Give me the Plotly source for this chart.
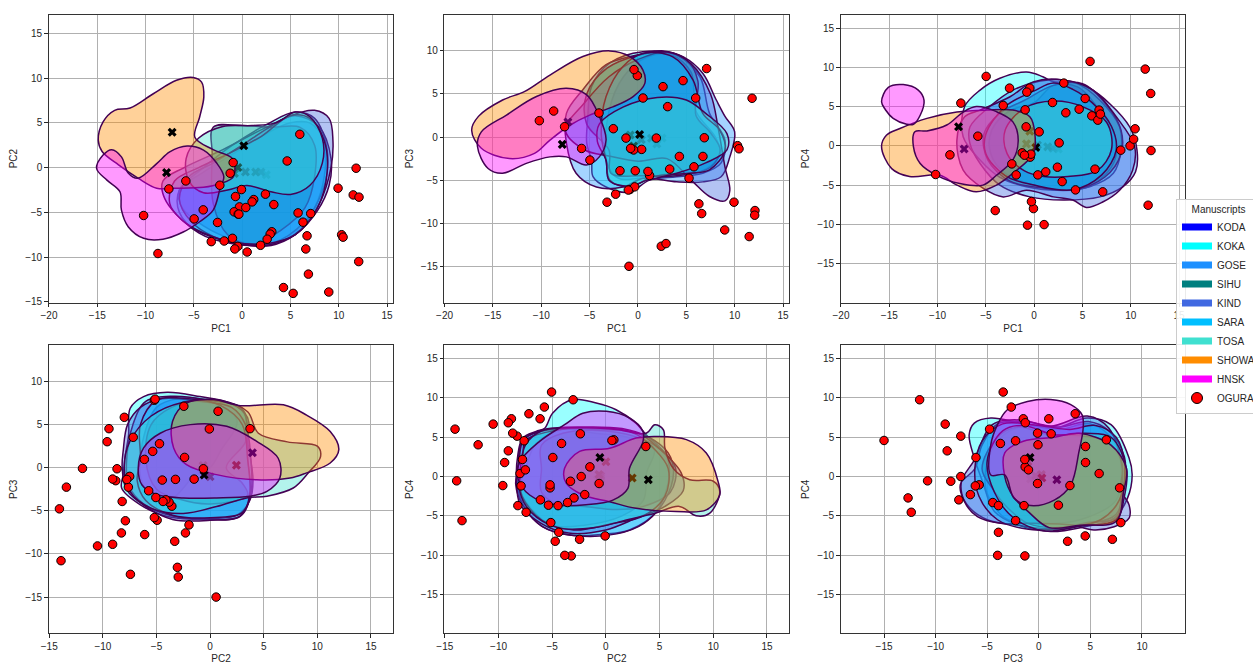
import plotly.graph_objects as go

MANUSCRIPTS = ["KODA", "KOKA", "GOSE", "SIHU", "KIND", "SARA", "TOSA", "SHOWA", "HNSK"]
COLORS = ["#0000ff", "#00ffff", "#1e90ff", "#008080", "#4169e1", "#00bfff", "#40e0d0", "#ff8c00", "#ff00ff"]

# OGURA points, one entry per poem
PC1 = [5.97, 4.66, 11.8, 9.93, 11.5, 12.1, -0.93, -1.24, -5.83, -2.31, -7.59, -0.07, -0.69, 2.41, 1.2, 1.03, 3.28,
       -0.28, 0.38, -4.03, -0.83, -0.41, -0.34, 5.79, 7.1, -10.2, -4.97, -2.55, 6.3, 3.07, 2.9, 2.59, 6.72, 10.3,
       10.45, -1.0, -3.2, -1.86, -0.45, -0.76, 1.9, 0.52, 6.59, -8.72, 12.07, 6.86, 4.28, 5.28, 8.97]
PC2 = [3.72, 0.74, -0.07, -2.3, -3.05, -3.3, 0.56, -0.63, -1.49, -1.97, -2.38, -2.45, -3.23, -2.97, -3.57, -3.83, -4.13,
       -4.39, -4.46, -4.72, -4.94, -5.2, -5.2, -5.06, -5.13, -5.35, -5.73, -6.13, -6.1, -7.17, -7.43, -8.0, -7.62, -7.5,
       -7.77, -7.9, -8.27, -8.2, -8.8, -9.09, -8.68, -9.43, -9.09, -9.6, -10.5, -11.9, -13.4, -14.05, -13.9]
PC3 = [4.53, 6.55, 4.5, -7.56, -11.55, -8.53, -15.0, -0.12, -1.32, -6.63, 1.2, 7.13, -1.35, -12.67, -4.46, -3.99, -3.72,
       -3.91, -1.43, 2.79, -6.09, 7.83, -5.78, -3.45, 7.95, 1.9, -2.67, 0.97, -7.75, 3.53, -12.36, 5.85, -2.25, -1.0,
       -1.36, -6.15, -7.56, -3.91, -1.5, -1.31, -0.12, 4.53, -8.88, 3.02, -9.07, -0.08, -2.25, -4.77, -10.78]
PC4 = [3.82, 4.67, -7.56, 0.0, 9.77, -0.6, 4.59, -0.89, 1.23, -2.3, 5.44, -7.99, -10.1, -2.72, -3.31, -10.03, 4.21,
       -7.1, -3.7, -8.24, 2.42, -1.44, -1.06, 10.75, -5.86, -3.65, 8.84, 7.35, -2.97, 7.99, -4.55, 0.38, 4.55, 0.85,
       2.17, -1.19, 5.14, -3.7, 7.35, 6.84, 5.52, 1.78, 3.27, -1.15, 6.67, 4.04, -5.61, 6.03, -0.55]

# Manuscript centroids, same order as MANUSCRIPTS
MEAN_PC1 = [2.5, 1.95, 1.4, 0.34, -0.8, -0.45, 0.17, -7.25, -7.83]
MEAN_PC2 = [-0.8, -0.5, -0.5, -0.48, -0.65, 0.0, 2.45, 3.95, -0.56]
MEAN_PC3 = [-0.1, -0.8, -0.15, -0.3, 0.25, -1.05, 0.3, 1.75, -0.85]
MEAN_PC4 = [-0.4, -0.3, -0.13, 0.1, 0.25, 1.87, -0.2, -0.4, 2.42]

# Density outlines; None separates detached parts
KODA_12 = [(-6.5,-2.5),(-4,-0.5),(-1,1.5),(2,3.5),(5,5),(7,5),(8.5,3),(8.5,-1),(7.5,-4.5),(5.5,-7.5),(2,-8.6),(-1,-8),(-4,-6.5),(-6.2,-4.5)]
KOKA_12 = [(-6.5,-5),(-6.5,-2.5),(-4,0),(-1,2.5),(2.5,4.8),(5.5,6.2),(7.5,5.5),(8.8,2),(8.5,-2),(6.5,-6),(3,-8.5),(-1,-8.5),(-4.5,-7.3)]
GOSE_12 = [(-8,-3.5),(-8.2,-1.5),(-6,0),(-2,2),(2.5,4.5),(5.5,5.8),(8,4.5),(9.2,1),(9,-2),(7.8,-4.8),(5.5,-7.5),(3,-8.7),(0,-8.6),(-3,-7.8),(-5.5,-6.5)]
SIHU_12 = [(-3,-4),(-3.1,1.5),(-3,4.5),(0,4.7),(3,4.5),(6,4.5),(7.5,2.5),(7.5,-1),(6.5,-4.5),(4,-7),(1,-8.6),(-1.5,-7.5)]
KIND_12 = [(-6.5,-3.5),(-5.5,-1),(-3,0.5),(0,2.5),(2.5,4.3),(5,5.8),(7.5,6.4),(9,5.5),(9.4,3),(9.2,0),(8,-4),(6,-7),(3,-8.6),(0,-8.6),(-3,-7.7),(-5.3,-6)]
SARA_12 = [(-7.5,-4),(-7,-1.5),(-4.5,0),(-1.5,1.5),(2,3.5),(5,5.8),(7,5.5),(8.5,3),(8.8,-0.5),(7.8,-4.5),(5.5,-7.5),(2.5,-8.5),(-1,-8.3),(-4,-7.3),(-6.3,-5.8)]
TOSA_12 = [(-5.8,1),(-4.5,3.3),(-2,4.6),(1,4.7),(3.5,5),(5.5,6.2),(7,5.7),(8.3,3.3),(8.3,0.5),(7,-2),(5,-3),(3,-2.7),(0.5,-2),(-1.5,-2.5),(-4,-2.8),(-5.5,-1.5)]
SHOWA_12 = [(-14.9,3.05),(-14.4,5.1),(-13.2,6.4),(-11.6,6.65),(-9.2,8.25),(-6.8,9.75),(-5.07,10.07),(-4.2,9.55),(-3.97,7.9),(-4.4,5.65),(-4.9,3.4),(-3,2),(-1,1),(-0.9,-1),(-2.3,-1.8),(-4,-2.2),(-7,-2.3),(-8.85,-2.3),(-10.75,-1.2),(-12.8,0.3),(-14.5,1.8)]
HNSK_12 = [(-15.07,-0.1),(-14.4,1.4),(-13.5,2),(-12.5,1.2),(-11.8,-0.6),(-10.8,-1.2),(-8.85,0.45),(-7.5,1.75),(-5.7,2.4),(-4,1.95),(-2.6,0.45),(-1.9,-1),(-2.3,-2.4),(-3,-4.75),(-4.4,-6.05),(-6.1,-7.2),(-8.2,-8),(-10.2,-7.9),(-11.8,-6.6),(-12.5,-4.75),(-12.65,-2.7),(-14,-1.4)]

KODA_13 = [(-3.2,-3),(-3,3),(-1.5,7),(1,9.3),(3.5,9.5),(5.5,7.5),(6,3),(8,0),(8.5,-2),(6.5,-4),(3,-4.3),(0,-4.8),(-2,-4.8)]
KOKA_13 = [(-4.8,-2.7),(-4.65,-4.6),(-3.3,-5.8),(-0.9,-6.4),(1.2,-5),(4,-4.6),(6.7,-4.2),(8.6,-3),(9,-0.35),(7.4,2.75),(6.4,7),(4,9.5),(0.5,9.9),(-2.9,8.6),(-4.8,5.85),(-5.2,2),(-5.3,-0.7)]
GOSE_13 = [(-7.4,-0.7),(-6.4,-4.2),(-4.3,-5.8),(-1.55,-5.8),(0.5,-4.8),(4,-5.2),(6.7,-5.2),(8.6,-4.6),(9.5,-2.3),(10,0.6),(9,2.4),(8.1,4.3),(6.7,7.4),(4.7,9.3),(2.6,10),(-0.2,9.5),(-3.3,8.4),(-5.7,5.5),(-7.4,2.75)]
SIHU_13 = [(-5.3,1.5),(-5.3,5),(-3.2,8),(0,9.5),(2.5,9.9),(5,9),(6.2,6.5),(6,2.5),(7.5,0.5),(8.5,-1.5),(7.5,-3.5),(4,-4.5),(0.5,-4.5),(-2.8,-4.2),(-3,-1.5)]
KIND_13 = [(-7.5,0.8),(-5.5,4),(-3,7),(0,9),(3,9.9),(5.5,8.5),(7.5,5),(8.3,1),(9,-3.5),(9.5,-6.2),(9,-7.4),(7.4,-6.9),(5.5,-5),(3,-2.5),(0,-2.8),(-3,-2.2),(-5.5,-1.5)]
SARA_13 = [(-3.3,-2.7),(-2.9,-5),(-0.9,-5.8),(1.55,-4.6),(5.3,-4.2),(7.4,-3.8),(9,-1.5),(8.45,0.8),(6.7,2.75),(5.7,6.6),(3.6,9.3),(0.5,9.7),(-1.55,8.2),(-3.3,4.7),(-3.8,0.4)]
TOSA_13 = [(-4,1.5),(-1.5,3.5),(2,4.6),(5,4.3),(7,2.75),(9.2,0.4),(9.2,-1.5),(7,-3),(4,-4.2),(1,-5),(-1,-5.7),(-3,-5),(-3.3,-2.7),(-4.2,-0.5)]
SHOWA_13 = [(-17.2,0.8),(-16.5,2.4),(-14,4.3),(-11.7,5.3),(-9.1,7.2),(-5.7,9.35),(-2.9,10),(-0.86,9.35),(0.5,7.8),(0.7,6.2),(-0.5,4.7),(-2.6,3.5),(-5,2.55),(-7,1.4),(-9.1,-0.35),(-10.7,-1.9),(-13.3,-2.5),(-16.2,-1.3)]
HNSK_13 = [(-16.6,-1.1),(-16.2,0.6),(-13.6,2.55),(-10.5,4.7),(-7.4,5.65),(-5.3,4.9),(-4,2.4),(-3.3,-0.35),(-4,-2.3),(-5.35,-3.25),(-7.4,-2.3),(-9.1,-2.3),(-11.55,-3.05),(-14,-4.2),(-15.5,-3.65)]

KODA_14 = [(-4.4,2),(-2.5,4.5),(0,5.5),(2,7.7),(4.5,7.5),(6.5,5),(8.3,1.5),(8.3,-2),(6,-5),(3,-5.7),(0,-5),(-3,-3.5),(-4.5,-1)]
KOKA_14 = [(-7.2,5),(-5.6,7.1),(-3.55,8.6),(-0.8,9.4),(0.9,8.8),(2,8.15),(4.4,7.95),(6.8,5.8),(8.85,2.4),(9,-0.55),(8.2,-3.5),(5.75,-5.2),(2.65,-5.65),(-0.8,-5.2),(-3.55,-4),(-5.6,-1.8),(-7.35,1.15)]
GOSE_14 = [(-6.65,2.4),(-4.6,5),(-2.2,7.1),(0.6,8.25),(3,8.4),(5.75,7.3),(7.8,5.4),(9.9,2.4),(10.65,-0.55),(10.5,-3.3),(9.2,-5.2),(6.8,-6.5),(3,-6.9),(-0.45,-6.5),(-3.55,-5),(-5.6,-2.25),(-6.65,0.3)]
SIHU_14 = [(-5.2,1.5),(-3.5,4.2),(-1,5.8),(2,7.7),(5,7.9),(7.5,5.2),(9,2),(9,-1),(7.3,-4),(4,-5.6),(0.5,-5.3),(-2.5,-4.5),(-4.8,-1.8)]
KIND_14 = [(-5.3,-5.4),(-3.2,-6.5),(-0.8,-5.65),(2,-6.5),(4,-6.9),(5.4,-7.85),(7.1,-7.15),(8.85,-5.65),(10.2,-3.1),(10.4,-0.1),(8.5,3.7),(6.1,7.1),(3,8.4),(-0.1,8.15),(-2.5,6.25),(-5.6,4.55),(-7.2,3.7),(-8,0.7),(-7.35,-3.1)]
SARA_14 = [(-5,1.5),(-3,5),(0,7),(2,8),(4,7.2),(6,5.5),(8,2.5),(8.5,-0.5),(7,-3.7),(4,-5.6),(0,-5),(-3,-3.8),(-5,-1)]
TOSA_14 = [(-3,2),(-1,4.8),(2,5.7),(5,5),(7.5,3),(8,-0.5),(6.5,-3.2),(3.5,-3.9),(1,-3.9),(-1,-3.2),(-2.8,-1)]
SHOWA_14 = [(-15.8,-0.1),(-15.3,1.35),(-13.9,2.2),(-11.1,3.5),(-8,4.3),(-4.9,4.55),(-2.2,4.55),(-0.45,3.7),(0.07,1.6),(-0.1,-1),(-2.2,-3.5),(-3.9,-5),(-6,-5.85),(-8,-5),(-9.75,-3.75),(-12.9,-3.9),(-14.75,-2.9)]
HNSK_14 = [(-15.8,5.6),(-15.1,7.45),(-13.55,7.8),(-12,7.1),(-11.4,5.8),(-11.8,3.9),(-12.5,2.75),(-13.2,2.75),(-14.6,3.5),(-15.4,4.6),None,
           (-12.35,1.8),(-12.5,-0.1),(-11.8,-2.25),(-10.1,-3.75),(-7.7,-4.8),(-5.3,-5),(-3.9,-3.75),(-2.2,-1.8),(-1.65,0.7),(-2.2,3.05),(-3.9,4.35),(-6,5),(-7.35,4.3),(-9.05,2.65),(-11.1,1.9)]

KODA_23 = [(-6.5,-1),(-6.3,3),(-5,7),(-3,8),(0,7.7),(2.5,5.5),(1,2),(0,0),(-1.5,-1),(-3.5,-3.5),(-5,-3.5),(-6,-2.5)]
KOKA_23 = [(-8.1,-0.8),(-8.25,-2.35),(-6.5,-4.3),(-4,-5.65),(-0.3,-6),(2.8,-5.65),(3.7,-3.5),(3.5,1),(3.25,6.15),(1.85,7.5),(-0.95,8.25),(-4,8.75),(-6.2,8.25),(-7.45,6.9),(-7.6,3.8),(-7.9,1.5)]
GOSE_23 = [(-7.8,0.5),(-7.2,5),(-6,7.7),(-3.5,8.3),(0,7.8),(3,6.8),(3.5,3),(4,-1.5),(3.7,-3.8),(2.5,-5.5),(0,-5.9),(-3.5,-5.6),(-6.2,-4.2),(-7.6,-2)]
SIHU_23 = [(-6,1),(-5.5,5),(-3.6,7),(-1,7.8),(2,7.4),(3.5,5.8),(3.3,3),(1.5,0),(3,-1.8),(3.5,-3.2),(0,-4.2),(-3,-3.6),(-5,-2.5)]
KIND_23 = [(-8.1,2),(-7.7,5),(-6.5,7),(-4.5,8),(-1,7.7),(2,7),(3.3,5),(3.8,1),(3.8,-3),(2.8,-5.6),(0,-6.1),(-3.5,-6),(-6,-4.5),(-7.8,-2.5),(-8.2,0)]
SARA_23 = [(-6.5,1),(-6.5,5),(-5,7.8),(-2,8),(1,7.2),(3,5),(3.5,1),(3.7,-3),(3,-5.2),(0,-5.8),(-3.5,-5.5),(-6,-3.8),(-6.8,-1.5)]
TOSA_23 = [(-8,0),(-7.5,3),(-5.5,6),(-2.5,7.6),(1,7.8),(3.5,6.5),(4.5,4),(7.2,3),(10,2.5),(10.3,1.3),(9.15,-0.6),(7.75,-2.35),(5.3,-3.3),(3.4,-3.5),(0.6,-4.5),(-2.5,-5.3),(-5.5,-4.7),(-7.5,-2.7)]
SHOWA_23 = [(2.8,7.2),(6.83,7.3),(9,6.1),(11.2,4.2),(12,2.1),(11.2,0.55),(9,-0.6),(7.45,-1.2),(4.35,-1.4),(0.6,-0.8),(-2.2,0.35),(-3.4,2.3),(-3.5,5.4),(-2.2,7.5),(0.3,7.9)]
HNSK_23 = [(-6.7,0),(-6.2,2.3),(-4.65,4),(-1.85,5),(1.55,4.8),(4.35,3.05),(6.35,1.1),(6.5,-1.2),(5.3,-2.75),(3.7,-3.3),(0.6,-3.5),(-2.5,-3.5),(-5,-3.1),(-6.35,-2)]

KODA_24 = [(-7.5,1),(-6.5,4.2),(-4,6),(-1,5.5),(2,5),(4.5,3.5),(3.8,0.5),(3.5,-3),(1.5,-5),(-2,-6.2),(-5,-6.2),(-7,-4),(-8,-1.5)]
KOKA_24 = [(-5.7,6.15),(-4.95,8.1),(-3.1,9.8),(-0.9,9.35),(0.95,8.5),(2.8,6.8),(3.75,5.3),(5.6,2.75),(5.9,0.2),(4.7,-4.45),(2.2,-6.8),(-0.3,-7.35),(-3.4,-7.45),(-5.85,-6.4),(-7.7,-3.6),(-8.3,-0.65),(-8.2,2.75),(-7.75,4.9),(-6.5,5.75)]
GOSE_24 = [(-8.2,1),(-7.8,4.5),(-6,5.9),(-2,6.3),(1.5,6.1),(4,5),(5.8,3),(6.3,0.5),(5.5,-3),(3.5,-6),(1,-7.3),(-3,-7.5),(-6,-6.3),(-7.8,-3.5),(-8.4,-1)]
SIHU_24 = [(-6,1),(-6,4),(-4,5.5),(0,5.8),(3.5,4.7),(5.5,3),(6.5,1),(6,-2),(3.5,-3.8),(1,-4.2),(-2,-3.8),(-4.5,-3.5),(-6,-2)]
KIND_24 = [(-8.1,2),(-7.6,4.8),(-5,6),(-1,6),(3,5.5),(5,3.5),(7,0.5),(7.2,-1.8),(5.5,-3.8),(3,-5.2),(0,-6.8),(-3.5,-7.2),(-6,-6),(-8,-3.5),(-8.3,-0.5)]
SARA_24 = [(-7.7,2),(-7.5,4.5),(-5,5.8),(-1,6.2),(2.5,5.6),(4.5,3.5),(5.8,1),(5.5,-2.5),(3.5,-5),(0.5,-6),(-3,-6.8),(-6,-5.5),(-7.8,-2.5),(-8,-0.5)]
TOSA_24 = [(-8,0.5),(-7.5,4),(-6,5.8),(-2,6.2),(1,6),(3.75,5.5),(4.55,6.6),(5.35,5.95),(5.5,3.6),(6.3,1),(7.8,-0.4),(10,-0.6),(10.6,-1.9),(9.65,-4.7),(8.4,-5),(6.85,-3.8),(4.5,-4.7),(2,-5.5),(-1,-6.5),(-4.5,-6.5),(-7,-4.5),(-8,-2)]
SHOWA_24 = [(4.7,5.1),(7.5,4.7),(9.35,3),(10.45,-0.65),(10.6,-2.35),(9.35,-4.25),(6.55,-4.45),(2.8,-4.05),(0.35,-3.2),(-2.15,-2.35),(-3.7,-0.85),(-3.85,1.05),(-2.45,3.2),(0.35,3.6),(2.8,4.9)]
HNSK_24 = [(-3.85,6.6),(-2.15,8.05),(0.05,8.3),(2.2,7.45),(3.45,5.75),(3.45,4.45),(2.2,1.05),(2.05,-1.5),(0.65,-3),(-1.85,-3.6),(-4.65,-3.6),(-7.1,-2.35),(-8.2,-0.2),(-8,1.9),(-6.2,4.45)]

KODA_34 = [(-5.2,-1),(-4.7,3),(-3.2,5.5),(-1,6.5),(2,6),(5,6.7),(7.3,4.5),(8,1),(7.5,-3),(4,-5.5),(0,-6),(-3,-5.5),(-4.5,-3.5)]
KOKA_34 = [(-6.75,5.3),(-6.25,6.8),(-4.65,7.45),(-1.75,6.8),(1.5,6.15),(4.7,7.45),(7,6.6),(8.75,2.35),(9.05,0.2),(8.6,-2.75),(7.3,-5.3),(4.4,-6.4),(1.15,-7),(-2.05,-6.15),(-4.3,-4.45),(-5.45,-0.65),(-6.25,2.35)]
GOSE_34 = [(-7.6,-1),(-6.2,1),(-5.5,4),(-4,6.7),(-1.5,7),(2,6.3),(4.8,7),(6.8,5.8),(8.3,2.5),(8.3,-1),(7.5,-4.8),(5,-6),(1.5,-6.7),(-2,-6.2),(-5,-5.5),(-7,-3.5)]
SIHU_34 = [(-5.5,1),(-4,5),(-2,6.3),(1,5.3),(4,5.2),(6.5,4.5),(8,2),(8,-2),(7.5,-5.3),(5,-5.8),(2,-6.5),(-1,-6),(-3,-4),(-4.5,-1.5)]
KIND_34 = [(-7.5,-0.65),(-6.25,2.1),(-4.5,6.6),(-1.75,7.2),(1.15,6.4),(4.7,7.7),(6.8,6.15),(8.1,1.05),(7.95,-1.7),(8.75,-3.6),(8.75,-5.3),(7.3,-6.4),(5.35,-6.8),(3.1,-6.15),(-0.45,-5.95),(-3.7,-5.95),(-5.95,-5.1),(-7.2,-3.2)]
SARA_34 = [(-6.2,1),(-5.5,4.5),(-3.5,6.7),(0,6.5),(3,6),(5.5,6.5),(7.5,5),(8.3,1.5),(7.8,-3),(6,-5.5),(2.5,-6.5),(-1,-6.7),(-4,-5.5),(-5.8,-2.5)]
TOSA_34 = [(-5,2),(-3.5,5.8),(-1.5,6.5),(1.5,5.3),(4.5,5.5),(7,5),(8.5,1),(8.3,-2.5),(7.5,-5.5),(4,-6.3),(0.5,-6.9),(-2.5,-5.2),(-4.3,-2)]
SHOWA_34 = [(3.9,5.5),(7,4),(8.5,1),(8.2,-2),(7.5,-5.7),(4,-6.2),(1,-6.5),(-1,-4.5),(-2.5,-2.5),(-3.3,0),(-3.3,3),(-1.5,4.5),(1.5,5)]
HNSK_34 = [(-4,6.6),(-3.05,8.5),(-1.1,9.55),(1.15,9.8),(3.1,9.15),(4.2,7.85),(4.3,6.15),(3.9,3.2),(3.1,-1.05),(1.5,-3),(-0.8,-3.7),(-2.4,-2.75),(-3.3,0.2),(-4.65,0.2),(-4.65,4.05)]

OUTLINES = {
    (1, 2): [KODA_12, KOKA_12, GOSE_12, SIHU_12, KIND_12, SARA_12, TOSA_12, SHOWA_12, HNSK_12],
    (1, 3): [KODA_13, KOKA_13, GOSE_13, SIHU_13, KIND_13, SARA_13, TOSA_13, SHOWA_13, HNSK_13],
    (1, 4): [KODA_14, KOKA_14, GOSE_14, SIHU_14, KIND_14, SARA_14, TOSA_14, SHOWA_14, HNSK_14],
    (2, 3): [KODA_23, KOKA_23, GOSE_23, SIHU_23, KIND_23, SARA_23, TOSA_23, SHOWA_23, HNSK_23],
    (2, 4): [KODA_24, KOKA_24, GOSE_24, SIHU_24, KIND_24, SARA_24, TOSA_24, SHOWA_24, HNSK_24],
    (3, 4): [KODA_34, KOKA_34, GOSE_34, SIHU_34, KIND_34, SARA_34, TOSA_34, SHOWA_34, HNSK_34],
}
PCS = {1: PC1, 2: PC2, 3: PC3, 4: PC4}
MEANS = {1: MEAN_PC1, 2: MEAN_PC2, 3: MEAN_PC3, 4: MEAN_PC4}

W, H = 1253, 664
PANEL_COLS = [(48.7, 393.3), (444.3, 789.3), (840.7, 1185.3)]
PANEL_ROWS = [(14.7, 302.5), (345.3, 633.3)]
RANGE_X = {1: [-20.03, 15.65], 2: [-15.05, 17.08], 3: [-19.2, 14.2]}
RANGE_Y = {2: [-15.07, 17.08], 3: [-19.2, 14.2], 4: [-19.95, 16.7]}
FONT = "Liberation Sans"
INK = "#262626"
PANELS = [(1, 2), (1, 3), (1, 4), (2, 3), (2, 4), (3, 4)]


def rgba(hex_color, a):
    r, g, b = int(hex_color[1:3], 16), int(hex_color[3:5], 16), int(hex_color[5:7], 16)
    return f"rgba({r},{g},{b},{a})"


def closed(outline):
    """Repeat each ring's first point at its end; None keeps rings apart."""
    xs, ys, ring = [], [], []
    for p in list(outline) + [None]:
        if p is None:
            ring.append(ring[0])
            xs += [q[0] for q in ring] + [None]
            ys += [q[1] for q in ring] + [None]
            ring = []
        else:
            ring.append(p)
    return xs[:-1], ys[:-1]


fig = go.Figure()
layout = {}
for i, (a, b) in enumerate(PANELS):
    n = "" if i == 0 else str(i + 1)
    col, row = PANEL_COLS[i % 3], PANEL_ROWS[i // 3]
    layout[f"xaxis{n}"] = dict(
        domain=[col[0] / W, col[1] / W], range=RANGE_X[a], anchor=f"y{n}",
        title=dict(text=f"PC{a}", standoff=4, font=dict(size=10, family=FONT, color=INK)),
        dtick=5, tick0=0, ticks="outside", ticklen=3.5, tickwidth=0.8, tickcolor=INK,
        showgrid=True, gridcolor="#b0b0b0", gridwidth=0.8, zeroline=False,
        showline=True, mirror=True, linecolor="#333333", linewidth=1,
        tickfont=dict(size=10, family=FONT, color=INK), automargin=False)
    layout[f"yaxis{n}"] = dict(
        domain=[1 - row[1] / H, 1 - row[0] / H], range=RANGE_Y[b], anchor=f"x{n}",
        title=dict(text=f"PC{b}", standoff=5, font=dict(size=10, family=FONT, color=INK)),
        dtick=5, tick0=0, ticks="outside", ticklen=3.5, tickwidth=0.8, tickcolor=INK,
        showgrid=True, gridcolor="#b0b0b0", gridwidth=0.8, zeroline=False,
        showline=True, mirror=True, linecolor="#333333", linewidth=1,
        tickfont=dict(size=10, family=FONT, color=INK), automargin=False)

    axes = dict(xaxis=f"x{n}", yaxis=f"y{n}")
    for m, name in enumerate(MANUSCRIPTS):
        xs, ys = closed(OUTLINES[(a, b)][m])
        fig.add_trace(go.Scatter(x=xs, y=ys, mode="lines", fill="toself", name=name,
                                 fillcolor=rgba(COLORS[m], 0.4), showlegend=False, hoverinfo="skip",
                                 line=dict(color="#440154", width=1.5, shape="spline", smoothing=1.0), **axes))
        fig.add_trace(go.Scatter(x=[MEANS[a][m]], y=[MEANS[b][m]], mode="markers", showlegend=False,
                                 name=name + " mean", marker=dict(symbol="x", size=8, color="black"), **axes))
    fig.add_trace(go.Scatter(x=PCS[a], y=PCS[b], mode="markers", name="OGURA", showlegend=False,
                             marker=dict(size=8.5, color="#ff0000", line=dict(color="black", width=1)), **axes))

# Legend entries
for m, name in enumerate(MANUSCRIPTS):
    fig.add_trace(go.Scatter(x=[None], y=[None], mode="lines", name=name,
                             line=dict(color=COLORS[m], width=7)))
fig.add_trace(go.Scatter(x=[None], y=[None], mode="markers", name="OGURA",
                         marker=dict(size=11, color="#ff0000", line=dict(color="black", width=1))))

fig.update_layout(
    width=W, height=H, autosize=False, paper_bgcolor="white", plot_bgcolor="white",
    margin=dict(l=0, r=0, t=0, b=0, autoexpand=False),
    font=dict(family=FONT, size=10, color=INK),
    legend=dict(x=1176 / W, xanchor="left", y=1 - 306 / H, yanchor="middle",
                title=dict(text="Manuscripts", side="top center", font=dict(size=10)),
                bgcolor="rgba(255,255,255,0.9)", bordercolor="#cccccc", borderwidth=1,
                font=dict(size=10, family=FONT, color=INK), itemsizing="trace"),
    **layout)

fig.write_html("out.html", config=dict(displayModeBar=False),
               post_script="document.body.style.margin='0';")
